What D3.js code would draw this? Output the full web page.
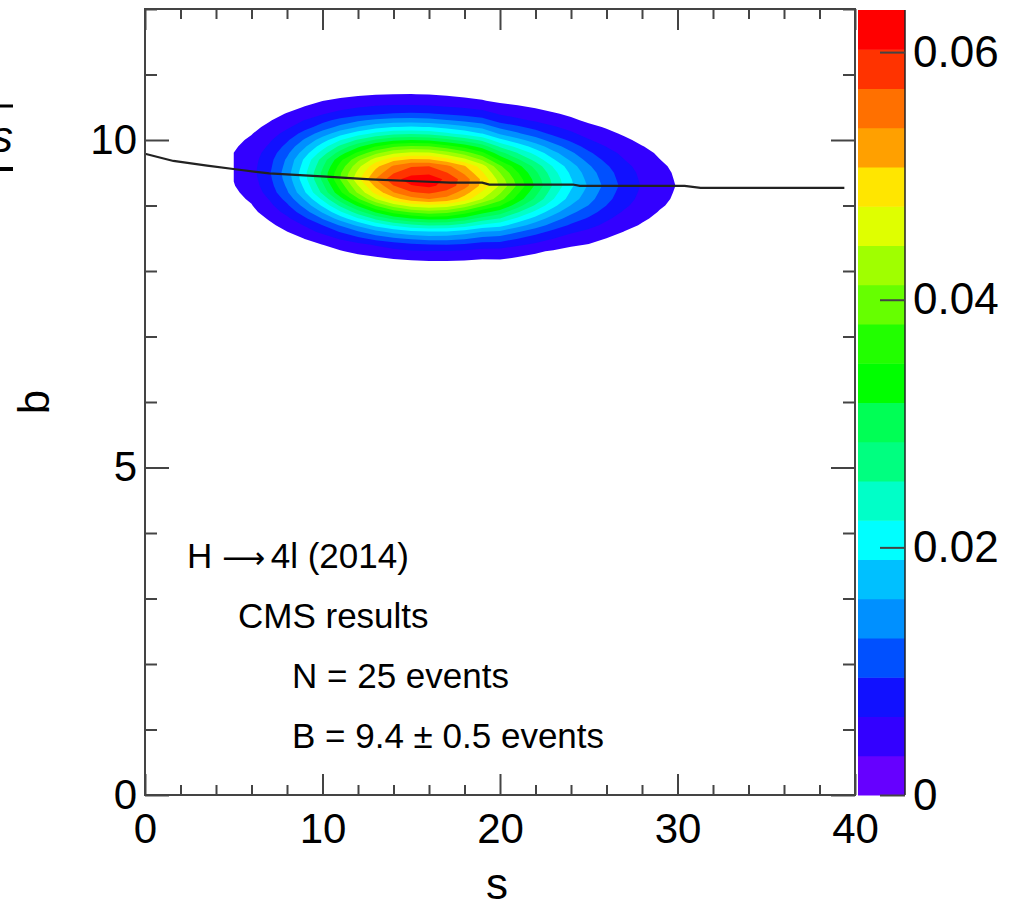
<!DOCTYPE html>
<html>
<head>
<meta charset="utf-8">
<title>Posterior p(s, b) - H to 4l</title>
<script src="https://d3js.org/d3.v7.min.js"></script>
<style>
  body { margin: 0; background: #fff; }
  text { font-family: "Liberation Sans", Arial, Helvetica, sans-serif; fill: #000; }
  .frame { fill: none; stroke: #444; stroke-width: 2; }
  .tick line { stroke: #444; stroke-width: 2; }
  .domain { display: none; }
</style>
</head>
<body>
<svg id="chart" width="1009" height="910"></svg>
<script>
// ---- data ----
// posterior along the ridge, relative to the peak, at integer s
const sNodes = [5, 6, 7, 8, 9, 10, 11, 12, 13, 14, 15, 16, 17, 18, 19, 20,
                21, 22, 23, 24, 25, 26, 27, 28, 29, 30, 31, 32];
const sProfile = [0.056, 0.085, 0.145, 0.23, 0.345, 0.475, 0.615, 0.745, 0.86, 0.945, 0.99, 1.0, 0.965, 0.9, 0.81, 0.705,
                  0.6, 0.5, 0.4, 0.315, 0.245, 0.185, 0.135, 0.097, 0.068, 0.048, 0.033, 0.022];
// shape across b, as offset from the ridge line
const bOffsets = [-2, -1.75, -1.5, -1.25, -1, -0.75, -0.5, -0.25, 0, 0.25, 0.5, 0.75, 1, 1.25, 1.5, 1.75, 2];
const bProfile = [0, 0.001, 0.008, 0.035, 0.12, 0.31, 0.59, 0.87, 1, 0.9, 0.65, 0.37, 0.17, 0.065, 0.02, 0.004, 0];
// black curve: most probable b for each s
const ridgeS = [0, 1.6, 3.5, 5.2, 7, 10.2, 12.7, 15.3, 17.2, 19, 19.4, 24.1, 24.5, 30.4, 31.3, 39.4];
const ridgeB = [9.79, 9.68, 9.61, 9.55, 9.49, 9.44, 9.40, 9.37, 9.35, 9.35, 9.32, 9.32, 9.30, 9.30, 9.27, 9.27];
const peakDensity = 0.0630;
const zMax = 0.0634;
const nLevels = 20;
// colour palette, bottom to top
const palette = ["#6600ff", "#3300ff", "#1111ff", "#0050ff", "#0090ff", "#00c0ff", "#00ffff", "#00ffc8", "#00ff80", "#00ff55",
                 "#00ff00", "#22ff00", "#66ff00", "#a0ff00", "#dfff00", "#ffe600", "#ffa000", "#ff7000", "#ff3300", "#ff0000"];
const xMajor = [0, 10, 20, 30, 40];
const yMajor = [0, 5, 10];
const zTicks = [0, 0.02, 0.04, 0.06];
const notes = ["CMS results", "N = 25 events", "B = 9.4 \u00b1 0.5 events"];

// ---- layout ----
const svg = d3.select("#chart");
const plot = { left: 145, right: 855, top: 9, bottom: 795 };
const bar = { left: 858, right: 905, top: 10, bottom: 795 };

const x = d3.scaleLinear().domain([0, 40]).range([plot.left, plot.right]);
const y = d3.scaleLinear().domain([0, 12]).range([plot.bottom, plot.top]);
const z = d3.scaleLinear().domain([0, zMax]).range([bar.bottom, bar.top]);

svg.append("clipPath").attr("id", "clip")
  .append("rect")
  .attr("x", plot.left).attr("y", plot.top)
  .attr("width", plot.right - plot.left).attr("height", plot.bottom - plot.top);

// ---- density grid built from the read profiles ----
const ridge = d3.scaleLinear().domain(ridgeS).range(ridgeB).clamp(true);
const bShape = d3.scaleLinear().domain(bOffsets).range(bProfile).clamp(true);
const bNodes = d3.range(43).map(i => 7.4 + i * 0.1);
const nx = sNodes.length, ny = bNodes.length;
const grid = new Array(nx * ny);
for (let j = 0; j < ny; j++) {
  for (let i = 0; i < nx; i++) {
    grid[j * nx + i] = peakDensity * sProfile[i] * bShape(bNodes[j] - ridge(sNodes[i]));
  }
}

const levels = d3.range(1, nLevels).map(k => k * zMax / nLevels);
const contours = d3.contours().size([nx, ny]).thresholds(levels)(grid);

const iToS = d3.scaleLinear().domain([0, nx - 1]).range([sNodes[0], sNodes[nx - 1]]);
const jToB = d3.scaleLinear().domain([0, ny - 1]).range([bNodes[0], bNodes[ny - 1]]);
const toPx = d3.geoTransform({
  point: function (cx, cy) {
    const gx = Math.max(0.5, Math.min(nx - 0.5, cx)) - 0.5;
    const gy = Math.max(0.5, Math.min(ny - 0.5, cy)) - 0.5;
    this.stream.point(x(iToS(gx)), y(jToB(gy)));
  }
});

svg.append("g")
  .attr("clip-path", "url(#clip)")
  .selectAll("path.band")
  .data(contours)
  .join("path")
  .attr("class", "band")
  .attr("fill", (d, i) => palette[i + 1])
  .attr("d", d3.geoPath(toPx));

// ridge line
svg.append("path")
  .datum(d3.zip(ridgeS, ridgeB))
  .attr("fill", "none")
  .attr("stroke", "#222")
  .attr("stroke-width", 2.2)
  .attr("d", d3.line().x(d => x(d[0])).y(d => y(d[1])));

// ---- axes (ROOT style: ticks inside on all four sides) ----
const xMinor = d3.range(0, 41, 2).filter(v => !xMajor.includes(v));
const yMinor = d3.range(0, 13, 1).filter(v => !yMajor.includes(v));

function addAxis(axis, tx, ty) {
  svg.append("g").attr("transform", `translate(${tx},${ty})`).call(axis);
}
// bottom
addAxis(d3.axisBottom(x).tickValues(xMajor).tickSize(-21).tickSizeOuter(0).tickPadding(18), 0, plot.bottom);
addAxis(d3.axisBottom(x).tickValues(xMinor).tickSize(-10).tickSizeOuter(0).tickFormat(""), 0, plot.bottom);
// top
addAxis(d3.axisTop(x).tickValues(xMajor).tickSize(-21).tickSizeOuter(0).tickFormat(""), 0, plot.top);
addAxis(d3.axisTop(x).tickValues(xMinor).tickSize(-10).tickSizeOuter(0).tickFormat(""), 0, plot.top);
// left
addAxis(d3.axisLeft(y).tickValues(yMajor).tickSize(-24).tickSizeOuter(0).tickPadding(8), plot.left, 0);
addAxis(d3.axisLeft(y).tickValues(yMinor).tickSize(-12).tickSizeOuter(0).tickFormat(""), plot.left, 0);
// right
addAxis(d3.axisRight(y).tickValues(yMajor).tickSize(-24).tickSizeOuter(0).tickFormat(""), plot.right, 0);
addAxis(d3.axisRight(y).tickValues(yMinor).tickSize(-12).tickSizeOuter(0).tickFormat(""), plot.right, 0);

svg.selectAll(".tick text").attr("font-size", 42).attr("font-family", null);

svg.append("rect").attr("class", "frame")
  .attr("x", plot.left).attr("y", plot.top)
  .attr("width", plot.right - plot.left).attr("height", plot.bottom - plot.top);

// axis titles
svg.append("text").attr("x", 497).attr("y", 899)
  .attr("text-anchor", "middle").attr("font-size", 44).text("s");
svg.append("text").attr("transform", "translate(49,402) rotate(-90)")
  .attr("text-anchor", "middle").attr("font-size", 44).text("b");

// ---- colour bar ----
const bands = d3.range(nLevels);
svg.append("g").selectAll("rect")
  .data(bands)
  .join("rect")
  .attr("x", bar.left)
  .attr("width", bar.right - bar.left)
  .attr("y", k => z((k + 1) * zMax / nLevels))
  .attr("height", k => z(k * zMax / nLevels) - z((k + 1) * zMax / nLevels) + 0.5)
  .attr("fill", k => palette[k]);

svg.append("line")
  .attr("x1", bar.right).attr("x2", bar.right)
  .attr("y1", bar.top).attr("y2", bar.bottom)
  .attr("stroke", "#222").attr("stroke-width", 1.5);

const zAxis = svg.append("g")
  .attr("transform", `translate(${bar.right},0)`)
  .call(d3.axisRight(z).tickValues(zTicks).tickSize(-25).tickSizeOuter(0).tickPadding(8)
    .tickFormat(d => d === 0 ? "0" : d3.format(".2f")(d)));
zAxis.selectAll(".tick line").attr("stroke", "#222");
zAxis.selectAll(".tick text").attr("font-size", 44).attr("font-family", null);

// ---- annotations ----
// first line with a long arrow, as TLatex draws it
const title = svg.append("text").attr("x", 187).attr("y", 568).attr("font-size", 35);
title.append("tspan").text("H ");
title.append("tspan").attr("font-family", "DejaVu Sans").attr("font-size", 30).text("\u27f6");
title.append("tspan").text(" 4l (2014)").attr("dx", -4);

const noteX = [238, 292, 292];
const noteY = [628, 688, 748];
svg.append("g").selectAll("text")
  .data(notes)
  .join("text")
  .attr("x", (d, i) => noteX[i])
  .attr("y", (d, i) => noteY[i])
  .attr("font-size", 35)
  .text(d => d);

// cropped piece of a neighbouring figure at the left edge
svg.append("line").attr("x1", 0).attr("x2", 13).attr("y1", 106).attr("y2", 106)
  .attr("stroke", "#000").attr("stroke-width", 3);
svg.append("line").attr("x1", 0).attr("x2", 13).attr("y1", 169).attr("y2", 169)
  .attr("stroke", "#000").attr("stroke-width", 4);
svg.append("text").attr("x", -9).attr("y", 152)
  .attr("font-family", "DejaVu Serif").attr("font-style", "italic")
  .attr("font-size", 44).text("s");
</script>
</body>
</html>
